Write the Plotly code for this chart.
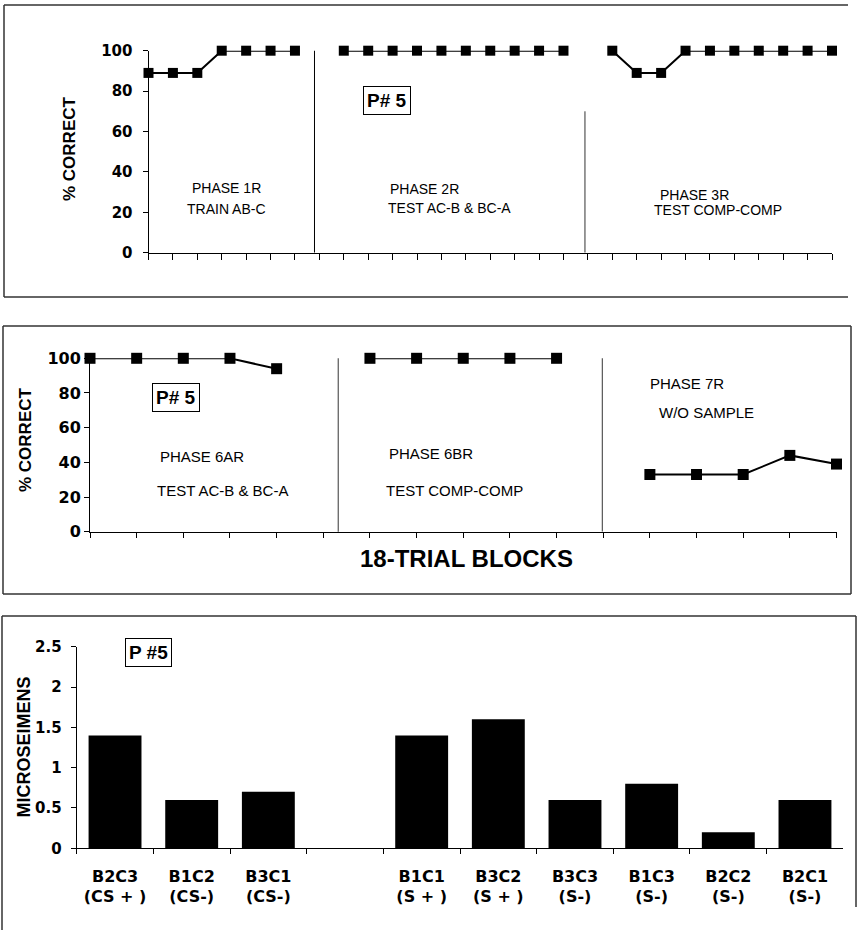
import plotly.graph_objects as go

# ---------------- data ----------------
# Panel 1: % correct per 18-trial block (None = gap between phases)
top_pct = [89, 89, 89, 100, 100, 100, 100,
           None,
           100, 100, 100, 100, 100, 100, 100, 100, 100, 100,
           None,
           100, 89, 89, 100, 100, 100, 100, 100, 100, 100]

# Panel 2
mid_pct = [100, 100, 100, 100, 94,
           None,
           100, 100, 100, 100, 100,
           None,
           33, 33, 33, 44, 39]

# Panel 3: skin conductance
bar_names = ["B2C3", "B1C2", "B3C1", " ", "B1C1", "B3C2", "B3C3", "B1C3", "B2C2", "B2C1"]
bar_groups = ["(CS + )", "(CS-)", "(CS-)", "", "(S + )", "(S + )", "(S-)", "(S-)", "(S-)", "(S-)"]
bar_values = [1.4, 0.6, 0.7, None, 1.4, 1.6, 0.6, 0.8, 0.2, 0.6]

top_ticks = [0, 20, 40, 60, 80, 100]
bot_ticks = [0, 0.5, 1, 1.5, 2, 2.5]

# ---------------- layout helpers ----------------
W, H = 859, 930
def px(x):
    return x / W
def py(y):
    return 1 - y / H

ARIAL = "Liberation Sans, Arial, sans-serif"
WIDE = "DejaVu Sans, Verdana, sans-serif"

fig = go.Figure()

line_style = dict(color="black", width=2)
marker_style = dict(symbol="square", size=10, color="black")

fig.add_trace(go.Scatter(x=list(range(len(top_pct))), y=top_pct, mode="lines+markers",
                         line=line_style, marker=marker_style, connectgaps=False,
                         cliponaxis=False, xaxis="x", yaxis="y", showlegend=False))
fig.add_trace(go.Scatter(x=list(range(len(mid_pct))), y=mid_pct, mode="lines+markers",
                         line=line_style, marker=dict(symbol="square", size=11, color="black"),
                         connectgaps=False, cliponaxis=False, xaxis="x2", yaxis="y2",
                         showlegend=False))

cats = [n if g == "" else f"{n}<br>{g}" for n, g in zip(bar_names, bar_groups)]
fig.add_trace(go.Bar(x=cats, y=bar_values, marker=dict(color="black", line=dict(width=0)),
                     xaxis="x3", yaxis="y3", showlegend=False))

axis_common = dict(showgrid=False, zeroline=False, showline=True, linecolor="black",
                   linewidth=1, tickcolor="black", tickwidth=1, automargin=False)
overlay_common = dict(ticks="inside", ticklen=5, tickcolor="black", tickwidth=1,
                      showticklabels=False, showline=False, showgrid=False,
                      zeroline=False, automargin=False, tickmode="array")

fig.update_layout(
    width=W, height=H,
    margin=dict(l=0, r=0, t=0, b=0, pad=0, autoexpand=False),
    paper_bgcolor="white", plot_bgcolor="white",
    bargap=0.31,
    # panel 1
    xaxis=dict(domain=[px(148.5), px(832)], range=[0, 28], anchor="y",
               tickmode="linear", tick0=0, dtick=1, ticks="outside", ticklen=6,
               showticklabels=False, **axis_common),
    yaxis=dict(domain=[py(252.7), py(50.7)], range=[0, 100], anchor="x",
               tickmode="array", tickvals=top_ticks, ticks="outside", ticklen=5,
               ticklabelstandoff=7,
               tickfont=dict(family=WIDE, size=15, color="black", weight="bold"),
               **axis_common),
    yaxis4=dict(overlaying="y", anchor="x", range=[0, 100], tickvals=top_ticks,
                **overlay_common),
    # panel 2
    xaxis2=dict(domain=[px(90), px(836.5)], range=[0, 16], anchor="y2",
                tickmode="linear", tick0=0, dtick=1, ticks="outside", ticklen=5,
                showticklabels=False, **axis_common),
    yaxis2=dict(domain=[py(531.7), py(358.3)], range=[0, 100], anchor="x2",
                tickmode="array", tickvals=top_ticks, ticks="outside", ticklen=5,
                ticklabelstandoff=0,
                tickfont=dict(family=WIDE, size=16, color="black", weight="bold"),
                **axis_common),
    yaxis5=dict(overlaying="y2", anchor="x2", range=[0, 100], tickvals=top_ticks,
                **overlay_common),
    # panel 3
    xaxis3=dict(domain=[px(76.7), px(843.3)], anchor="y3", type="category",
                categoryorder="array", categoryarray=cats,
                tickson="boundaries", ticks="outside", ticklen=5,
                ticklabelstandoff=13,
                tickfont=dict(family=WIDE, size=16, color="black", weight="bold"),
                **axis_common),
    yaxis3=dict(domain=[py(848.3), py(646.7)], range=[0, 2.5], anchor="x3",
                tickmode="array", tickvals=bot_ticks, ticks="outside", ticklen=5,
                ticklabelstandoff=6,
                tickfont=dict(family=WIDE, size=15, color="black", weight="bold"),
                **axis_common),
    yaxis6=dict(overlaying="y3", anchor="x3", range=[0, 2.5], tickvals=bot_ticks,
                **overlay_common),
)

# ---------------- phase dividers (data coords) ----------------
shapes = [
    dict(type="line", xref="x", yref="y", x0=6.8, x1=6.8, y0=0, y1=103,
         line=dict(color="black", width=1)),
    dict(type="line", xref="x", yref="y", x0=17.88, x1=17.88, y0=0, y1=70,
         line=dict(color="#333333", width=1)),
    dict(type="line", xref="x2", yref="y2", x0=5.32, x1=5.32, y0=-5, y1=105,
         line=dict(color="#333333", width=1)),
    dict(type="line", xref="x2", yref="y2", x0=10.98, x1=10.98, y0=0, y1=104,
         line=dict(color="#333333", width=1)),
]
# ---------------- panel frames (paper coords) ----------------
frame = dict(color="#333333", width=1.5)
def pline(x0, y0, x1, y1):
    return dict(type="line", xref="paper", yref="paper",
                x0=px(x0), x1=px(x1), y0=py(y0), y1=py(y1), line=frame)
shapes += [
    pline(4, 5, 848, 5), pline(4, 297, 848, 297), pline(4, 5, 4, 297),
    pline(3, 326, 851, 326), pline(3, 594, 851, 594), pline(3, 326, 3, 594), pline(851, 326, 851, 594),
    pline(2, 616, 856, 616), pline(2, 616, 2, 930), pline(856, 616, 856, 907),
]
fig.update_layout(shapes=shapes)

# ---------------- text ----------------
def label(text, x, y, size=14, bold=False, family=ARIAL, angle=0, box=False):
    d = dict(text=f"<b>{text}</b>" if bold else text, xref="paper", yref="paper",
             x=px(x), y=py(y),
             xanchor="center", yanchor="middle", showarrow=False, textangle=angle,
             font=dict(family=family, size=size, color="black"))
    if box:
        d.update(bordercolor="black", borderwidth=1, borderpad=3, bgcolor="white")
    fig.add_annotation(**d)

label("% CORRECT", 70, 149, size=17, bold=True, angle=-90)
label("% CORRECT", 25, 440, size=17, bold=True, angle=-90)
label("MICROSEIMENS", 23, 747.5, size=18, bold=True, angle=-90)

label("P# 5", 387, 100, size=19, bold=True, box=True)
label("P# 5", 176, 397.5, size=19, bold=True, box=True)
label("P #5", 148.5, 652.5, size=19, bold=True, box=True)

label("PHASE 1R", 226, 188.5)
label("TRAIN AB-C", 226, 209)
label("PHASE 2R", 424, 189)
label("TEST AC-B &amp; BC-A", 449.5, 208.5)
label("PHASE 3R", 694, 195)
label("TEST COMP-COMP", 717.5, 210)

label("PHASE 6AR", 201.7, 456.7, size=15)
label("TEST AC-B &amp; BC-A", 222.5, 490.7, size=15)
label("PHASE 6BR", 431, 453.3, size=15)
label("TEST COMP-COMP", 454.5, 490, size=15)
label("PHASE 7R", 686.7, 383.3, size=15)
label("W/O SAMPLE", 706.7, 412.3, size=15)

label("18-TRIAL BLOCKS", 466, 558, size=24, bold=True)

fig.write_html("out.html")
